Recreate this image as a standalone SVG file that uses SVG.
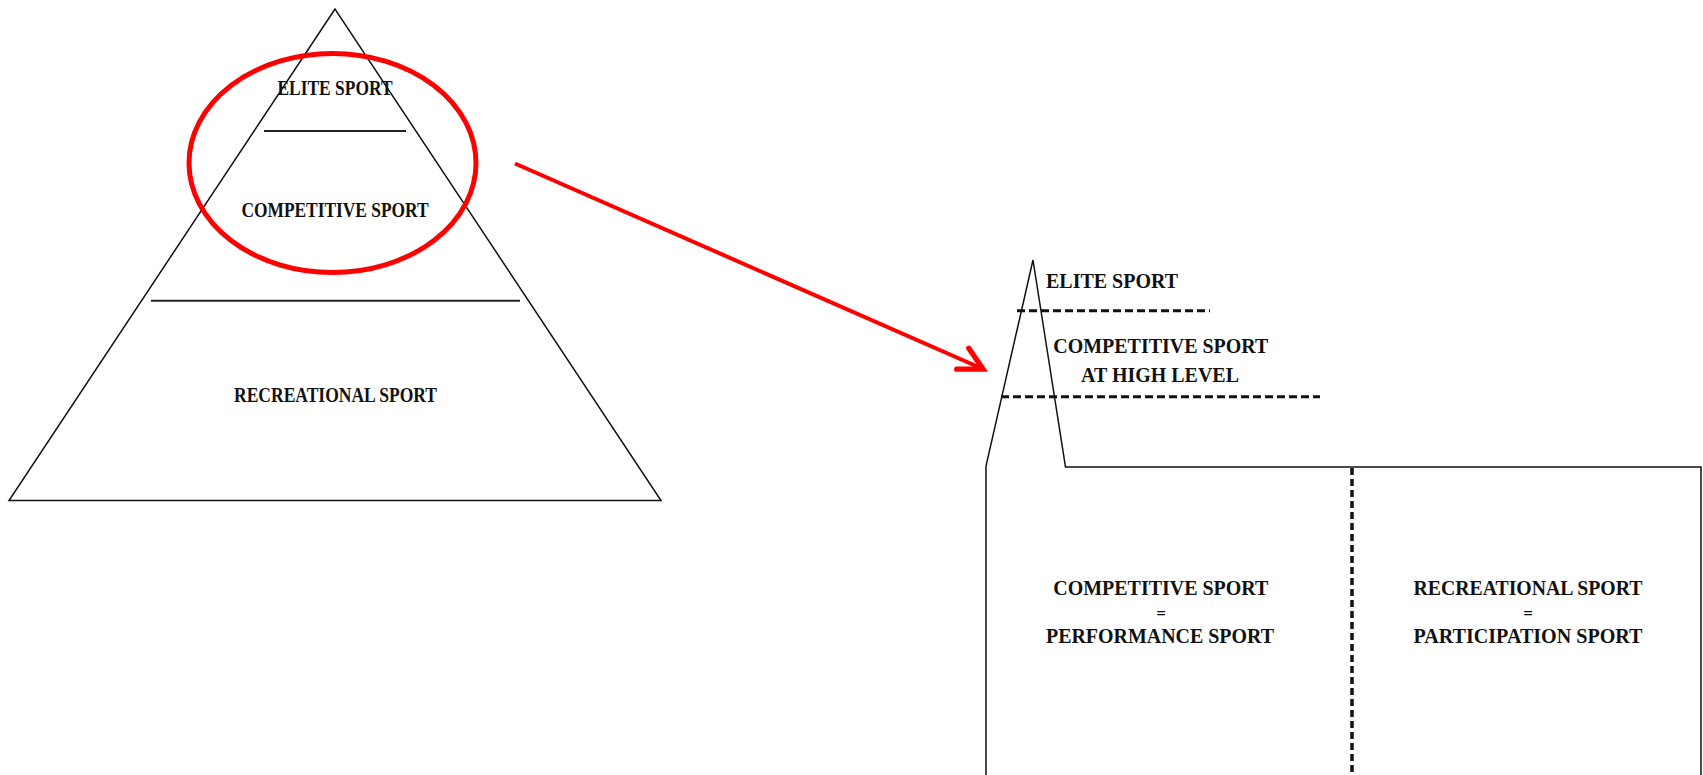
<svg xmlns="http://www.w3.org/2000/svg" width="1703" height="775" viewBox="0 0 1703 775">
<style>
text{font-family:"Liberation Serif","Times New Roman",serif;font-weight:bold;fill:#111;}
.l{font-size:20px;text-anchor:middle;}
.r{font-size:21px;text-anchor:middle;}
.thin{fill:none;stroke:#111;stroke-width:1.5;}
.div{fill:none;stroke:#222;stroke-width:2;}
.dash{fill:none;stroke:#111;stroke-width:3;stroke-dasharray:8 4;}
.vdash{fill:none;stroke:#111;stroke-width:3.5;stroke-dasharray:7 4;}
</style>
<defs>
<marker id="ah" markerUnits="userSpaceOnUse" markerWidth="40" markerHeight="40" refX="24" refY="12" orient="auto" viewBox="0 0 30 24">
<path d="M8,2 L24,12 L6,20" fill="none" stroke="#f00" stroke-width="4" stroke-linecap="round" stroke-linejoin="miter"/>
</marker>
</defs>
<rect width="1703" height="775" fill="#fff"/>
<g id="pyramid">
<path class="thin" d="M335,9 L9,500.5 L661,500.5 Z"/>
<line class="div" x1="264" y1="131" x2="406" y2="131"/>
<line class="div" x1="151" y1="300.7" x2="520" y2="300.7"/>
<text class="l" x="335" y="95" textLength="115" lengthAdjust="spacingAndGlyphs">ELITE SPORT</text>
<text class="l" x="335" y="217.3" textLength="187" lengthAdjust="spacingAndGlyphs">COMPETITIVE SPORT</text>
<text class="l" x="335.5" y="401.7" textLength="203" lengthAdjust="spacingAndGlyphs">RECREATIONAL SPORT</text>
</g>
<g id="highlight">
<ellipse cx="332.5" cy="163" rx="143.5" ry="109.5" fill="none" stroke="#f00" stroke-width="5"/>
</g>
<g id="connectors">
<line x1="515" y1="163.5" x2="983" y2="369" stroke="#f00" stroke-width="4" marker-end="url(#ah)"/>
</g>
<g id="sport-model">
<path class="thin" d="M986,775 L986,466 L1033,260 L1065.5,467 L1701,467 L1701,775"/>
<line class="dash" x1="1017" y1="310.7" x2="1210" y2="310.7"/>
<line class="dash" x1="1001" y1="396.7" x2="1320" y2="396.7"/>
<line class="vdash" x1="1352" y1="468" x2="1352" y2="775"/>
<text class="r" x="1046" y="288.3" style="text-anchor:start" textLength="132" lengthAdjust="spacingAndGlyphs">ELITE SPORT</text>
<text class="r" x="1160.8" y="353" textLength="215" lengthAdjust="spacingAndGlyphs">COMPETITIVE SPORT</text>
<text class="r" x="1160" y="381.7" textLength="158" lengthAdjust="spacingAndGlyphs">AT HIGH LEVEL</text>
<text class="r" x="1160.8" y="595" textLength="215" lengthAdjust="spacingAndGlyphs">COMPETITIVE SPORT</text>
<text class="r" x="1161" y="619" style="font-size:17px">=</text>
<text class="r" x="1160" y="643" textLength="228" lengthAdjust="spacingAndGlyphs">PERFORMANCE SPORT</text>
<text class="r" x="1528" y="595" textLength="229" lengthAdjust="spacingAndGlyphs">RECREATIONAL SPORT</text>
<text class="r" x="1528" y="619" style="font-size:17px">=</text>
<text class="r" x="1528" y="643" textLength="229" lengthAdjust="spacingAndGlyphs">PARTICIPATION SPORT</text>
</g>
</svg>
